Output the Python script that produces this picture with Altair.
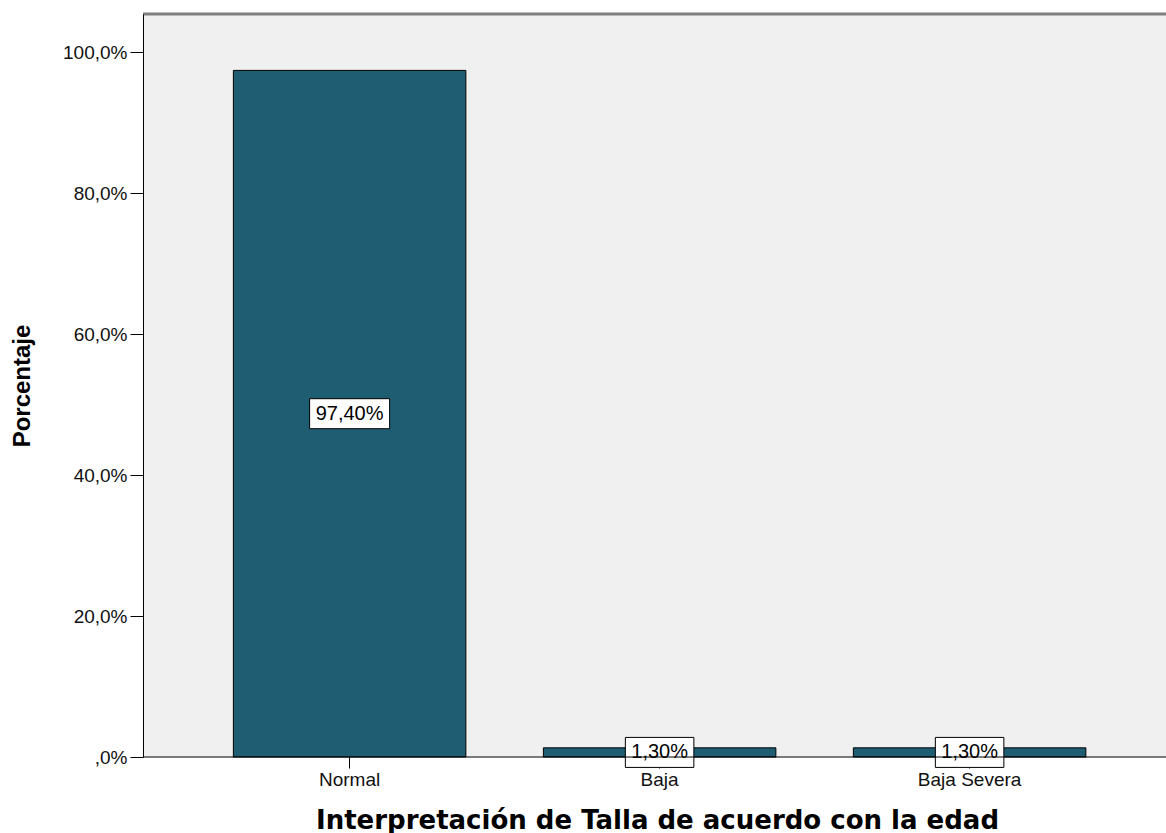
import altair as alt
import pandas as pd

# Height-for-age interpretation, share of the sample (%)
categories = ["Normal", "Baja", "Baja Severa"]
percentages = [97.4, 1.3, 1.3]
y_ticks = [0, 20, 40, 60, 80, 100]

df = pd.DataFrame({"categoria": categories, "porcentaje": percentages})

W, H = 1023, 743
BAR_COLOR = "#1F5D73"
PLOT_BG = "#F0F0F0"

x_enc = alt.X(
    "categoria:N",
    sort=categories,
    scale=alt.Scale(paddingInner=0.25, paddingOuter=0.275, align=0.53),
    axis=alt.Axis(
        title="Interpretación de Talla de acuerdo con la edad",
        labelAngle=0,
        labelFont="Liberation Sans",
        labelFontSize=19,
        labelColor="#111111",
        labelPadding=2,
        tickSize=11,
        tickColor="black",
        domain=False,
        titleFont="DejaVu Sans",
        titleFontSize=26,
        titleFontWeight="bold",
        titleColor="black",
        titleX=514,
        titleY=63,
        titleAlign="center",
        titleBaseline="middle",
        zindex=0,
    ),
)

y_enc = alt.Y(
    "porcentaje:Q",
    scale=alt.Scale(domain=[0, 105.4], nice=False, zero=True),
    axis=alt.Axis(
        title="Porcentaje",
        values=y_ticks,
        labelExpr="datum.value == 0 ? ',0%' : replace(format(datum.value, '.1f'), '.', ',') + '%'",
        labelFont="Liberation Sans",
        labelFontSize=19,
        labelColor="#111111",
        labelPadding=3,
        tickSize=13,
        tickColor="black",
        domainColor="black",
        grid=False,
        titleFont="Liberation Sans",
        titleFontSize=24,
        titleFontWeight="bold",
        titleColor="black",
        titleAngle=270,
        titleX=-121,
        titleY=371.5,
        titleAlign="center",
        titleBaseline="middle",
        zindex=1,
    ),
)

base = alt.Chart(df)

bars = base.mark_bar(color=BAR_COLOR, stroke="black", strokeWidth=1).encode(
    x=x_enc, y=y_enc
)

# value labels at mid-height of each bar, inside a white outlined box
labelled = base.transform_calculate(
    mid="datum.porcentaje / 2",
    etiqueta="replace(format(datum.porcentaje, '.2f'), '.', ',') + '%'",
    hw="(length(datum.etiqueta) * 11.5 + 11) / 80",
    caja="'M' + (-datum.hw) + ',-0.375L' + datum.hw + ',-0.375L' + datum.hw + ',0.375L' + (-datum.hw) + ',0.375Z'",
)

boxes = labelled.mark_point(
    filled=True, fill="white", stroke="black", strokeWidth=1, opacity=1, size=6400
).encode(
    x=alt.X("categoria:N", sort=categories),
    y=alt.Y("mid:Q"),
    shape=alt.Shape("caja:N", scale=None),
)

texts = labelled.mark_text(
    font="Liberation Sans", fontSize=20, color="black", align="center", baseline="middle"
).encode(
    x=alt.X("categoria:N", sort=categories),
    y=alt.Y("mid:Q"),
    text="etiqueta:N",
)

frame = alt.Chart(alt.Data(values=[{}]))

# gray frame line along the top of the plot area
top_line = frame.mark_rule(color="#808080", strokeWidth=3).encode(
    x=alt.value(0), x2=alt.value(W), y=alt.value(0)
)

# baseline of the category axis, drawn above the label boxes
base_line = frame.mark_rule(color="black", strokeWidth=1).encode(
    x=alt.value(0), x2=alt.value(W), y=alt.value(H)
)

chart = (
    alt.layer(bars, boxes, texts, top_line, base_line)
    .properties(
        width=W,
        height=H,
        autosize="none",
        padding={"left": 143, "top": 14, "right": 0, "bottom": 76},
        background="white",
    )
    .configure_view(fill=PLOT_BG, stroke="transparent")
)

chart.save("out.html", embed_options={"renderer": "svg", "actions": False})
